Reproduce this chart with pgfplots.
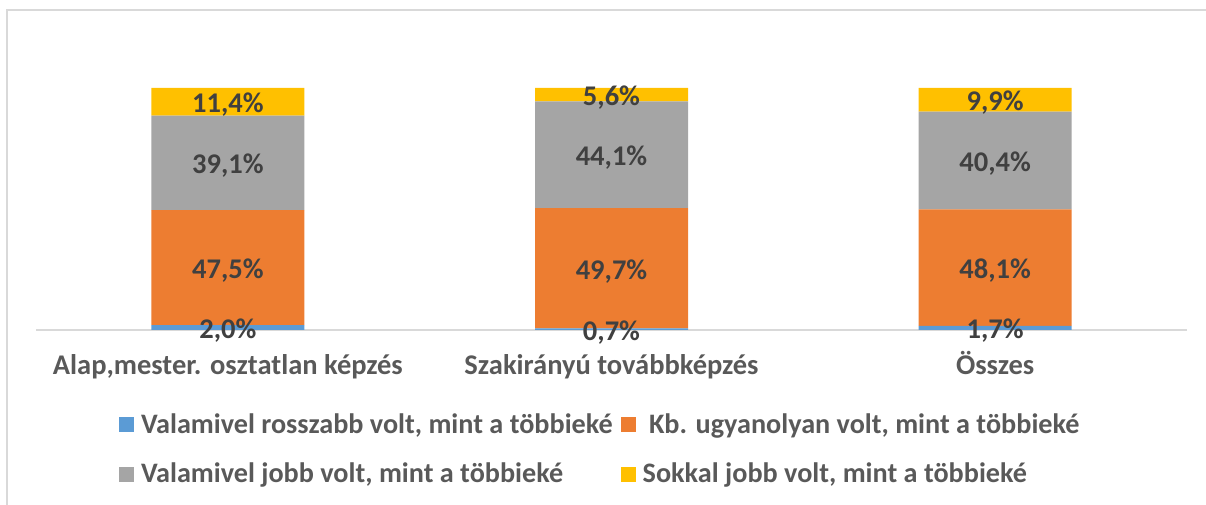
\documentclass[border=0pt]{standalone}
\usepackage{fontspec}
\setmainfont{Carlito}
\usepackage{pgfplots}
\pgfplotsset{compat=1.18}
\definecolor{cBlue}{HTML}{5B9BD5}
\definecolor{cOrange}{HTML}{ED7D31}
\definecolor{cGray}{HTML}{A5A5A5}
\definecolor{cYellow}{HTML}{FFC000}
\definecolor{gridC}{HTML}{D9D9D9}
\definecolor{textC}{HTML}{595959}
\definecolor{labelC}{HTML}{404040}
\newcommand{\chartfont}{\bfseries\fontsize{14.25}{16}\selectfont}
\newcommand{\legfont}{\bfseries\fontsize{14.1}{16}\selectfont}
\begin{document}
\begin{tikzpicture}[x=1pt,y=1pt]
\useasboundingbox (0,0) rectangle (603,252);
\draw[color=gridC, line width=0.75pt] (3.5,-5) -- (3.5,247) -- (610,247);
\begin{axis}[at={(18pt,87pt)}, anchor=south west, scale only axis,
  width=575.5pt, height=145.2pt,
  ybar stacked, bar width=76.5pt,
  ymin=0, ymax=120, xmin=-0.5, xmax=2.5,
  ytick={0,20,...,120}, yticklabels={},
  ymajorgrids, grid style={draw=gridC, line width=0.75pt},
  axis x line*=bottom, axis y line=none,
  x axis line style={draw=gridC, line width=0.75pt, -},
  xtick={0,1,2},
  xticklabels={{Alap,mester. osztatlan képzés},{Szakirányú továbbképzés},{Összes}},
  major tick length=0,
  xticklabel style={font=\chartfont, text=textC, anchor=base, yshift=-22.5pt},
  legend columns=2,
  legend cell align=left,
  legend image code/.code={\fill[#1] (0pt,-3.75pt) rectangle (7.5pt,3.75pt);},
  legend style={at={(0.0718,-0.272)}, anchor=north west, draw=none, fill=none,
    inner sep=0pt, font=\legfont, text=textC, row sep=9.5pt,
    /tikz/every odd column/.append style={column sep=1.5pt},
    /tikz/every even column/.append style={column sep=2pt}},
]
\addplot[fill=cBlue, draw=none] coordinates {(0,2.0) (1,0.7) (2,1.7)};
\addlegendentry{Valamivel rosszabb volt, mint a többieké}
\addplot[fill=cOrange, draw=none] coordinates {(0,47.5) (1,49.7) (2,48.1)};
\addlegendentry{\ Kb. ugyanolyan volt, mint a többieké}
\addplot[fill=cGray, draw=none] coordinates {(0,39.1) (1,44.1) (2,40.4)};
\addlegendentry{Valamivel jobb volt, mint a többieké}
\addplot[fill=cYellow, draw=none] coordinates {(0,11.4) (1,5.6) (2,9.9)};
\addlegendentry{Sokkal jobb volt, mint a többieké}
\end{axis}
\begin{axis}[at={(18pt,87pt)}, anchor=south west, scale only axis,
  width=575.5pt, height=145.2pt,
  ymin=0, ymax=120, xmin=-0.5, xmax=2.5, hide axis,
  point meta=explicit,
  nodes near coords={\pgfmathprintnumber[fixed,fixed zerofill,precision=1,use comma,assume math mode=true]{\pgfplotspointmeta}\%},
  every node near coord/.append style={anchor=center, yshift=-1.5pt, font=\chartfont, text=labelC},
]
\addplot[draw=none] coordinates {
  (0,1.0)[2.0] (0,25.75)[47.5] (0,69.05)[39.1] (0,94.3)[11.4]
};
\addplot[draw=none] coordinates {
  (1,0.35)[0.7] (1,25.55)[49.7] (1,72.45)[44.1] (1,97.3)[5.6]
};
\addplot[draw=none] coordinates {
  (2,0.85)[1.7] (2,25.75)[48.1] (2,70.0)[40.4] (2,95.15)[9.9]
};
\end{axis}
\end{tikzpicture}
\end{document}
